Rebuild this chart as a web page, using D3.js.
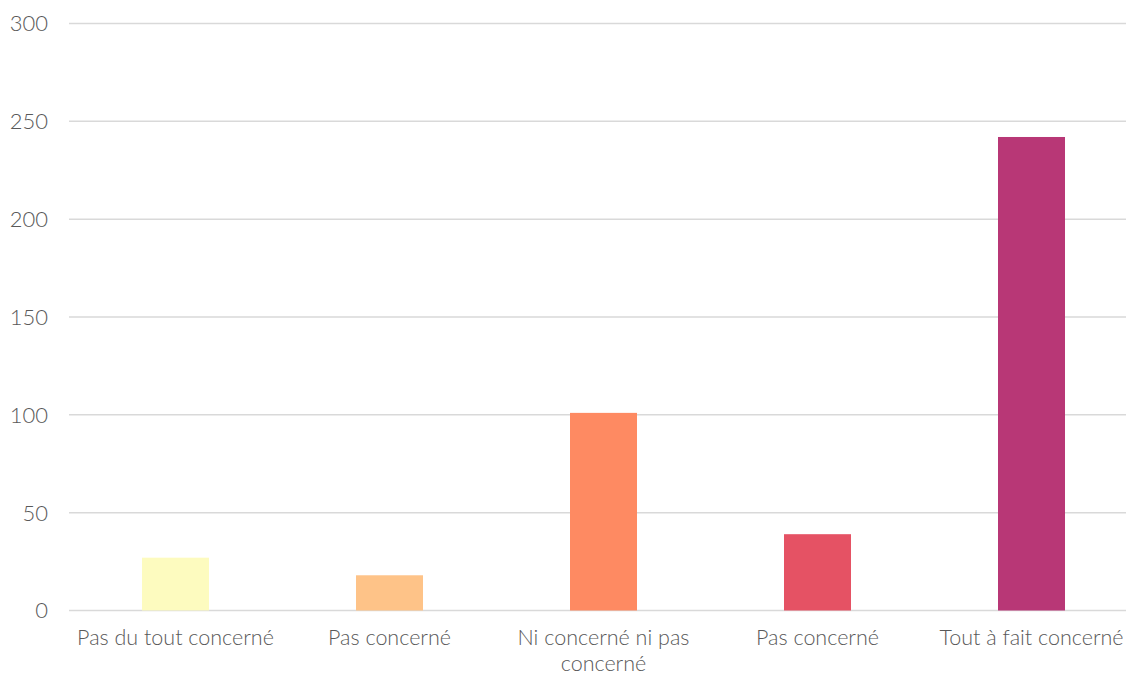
<!DOCTYPE html>
<html><head><meta charset="utf-8">
<script src="https://cdn.jsdelivr.net/npm/d3@7"></script>
<style>body{margin:0;background:#fff}svg{display:block}</style>
</head><body>
<script>
const categories = ["Pas du tout concerné","Pas concerné","Ni concerné ni pas concerné","Pas concerné","Tout à fait concerné"];
const values = [27, 18, 101, 39, 242];
const colors = ["#fdfbbf","#fec388","#fe8a62","#e55264","#b83776"];
const yTicks = [0,50,100,150,200,250,300];

const W = 1126, H = 675;
const svg = d3.select("body").append("svg").attr("width", W).attr("height", H);
const font = "Lato, 'Open Sans', sans-serif";

const x = d3.scaleBand().domain(d3.range(categories.length)).range([68.5, 1138.5]).paddingInner(0.687).paddingOuter(0.3435);
const y = d3.scaleLinear().domain([0,300]).range([610.5, 23.5]);

// gridlines
svg.append("g").selectAll("line").data(yTicks).join("line")
  .attr("x1", 69).attr("x2", W).attr("y1", d=>y(d)).attr("y2", d=>y(d))
  .attr("stroke", "#d9d9d9").attr("stroke-width", 1.5);

// y labels
svg.append("g").selectAll("text").data(yTicks).join("text")
  .attr("x", 48).attr("y", d=>y(d)).attr("dy","0.36em").attr("text-anchor","end")
  .attr("font-family", font).attr("font-weight",300).attr("font-size",22).attr("fill","#595959")
  .text(d=>d);

// bars
svg.append("g").selectAll("rect").data(values).join("rect")
  .attr("x", (d,i)=>x(i)).attr("width", x.bandwidth())
  .attr("y", d=>y(d)).attr("height", d=>y(0)-y(d))
  .attr("fill", (d,i)=>colors[i]);

// x labels with wrapping
const step = x.step();
svg.append("g").selectAll("text").data(categories).join("text")
  .attr("font-family", font).attr("font-weight",300).attr("font-size",21.5).attr("fill","#595959")
  .attr("text-anchor","middle")
  .each(function(d,i){
    const t = d3.select(this);
    const cx = x(i) + x.bandwidth()/2;
    const words = d.split(" ");
    let lines = [], cur = [];
    const tmp = t.append("tspan");
    words.forEach(w=>{
      cur.push(w);
      tmp.text(cur.join(" "));
      if (tmp.node().getComputedTextLength() > step - 10 && cur.length>1){
        cur.pop(); lines.push(cur.join(" ")); cur=[w];
      }
    });
    lines.push(cur.join(" "));
    tmp.remove();
    lines.forEach((l,k)=>{
      t.append("tspan").attr("x", cx).attr("y", 645 + k*25.5).text(l);
    });
  });
</script>
</body></html>
